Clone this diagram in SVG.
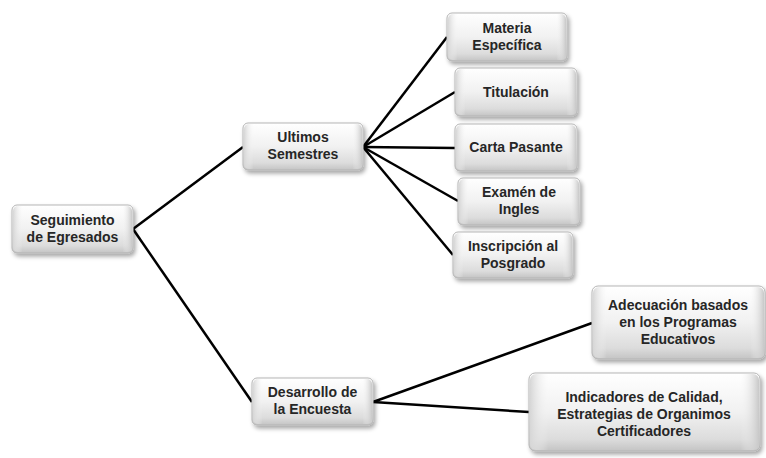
<svg xmlns="http://www.w3.org/2000/svg" width="766" height="458" viewBox="0 0 766 458">
<defs>
<linearGradient id="g" x1="0" y1="0" x2="0" y2="1">
<stop offset="0" stop-color="#ffffff"/>
<stop offset="0.5" stop-color="#f1f1f1"/>
<stop offset="0.85" stop-color="#dcdcdc"/>
<stop offset="1" stop-color="#c4c4c4"/>
</linearGradient>
<linearGradient id="gs" x1="0" y1="0" x2="1" y2="0">
<stop offset="0" stop-color="#d6d6d6"/>
<stop offset="0.08" stop-color="#f4f4f4" stop-opacity="0"/>
<stop offset="0.92" stop-color="#f4f4f4" stop-opacity="0"/>
<stop offset="1" stop-color="#c8c8c8"/>
</linearGradient>
<filter id="sh" x="-10%" y="-10%" width="125%" height="140%">
<feDropShadow dx="2" dy="3" stdDeviation="2" flood-color="#000" flood-opacity="0.35"/>
</filter>
</defs>
<style>
.b{fill:url(#g);stroke:#b5b5b5;stroke-width:1;filter:url(#sh)}
.s{fill:url(#gs);stroke:none}
.t{font-family:"Liberation Sans",Arial,sans-serif;font-weight:bold;font-size:14px;fill:#262626;text-anchor:middle}
.c{stroke:#000;stroke-width:2.5;fill:none}
</style>
<g id="connectors">
<line class="c" x1="133" y1="229" x2="243" y2="147"/>
<line class="c" x1="133" y1="229" x2="252" y2="402"/>
<line class="c" x1="363" y1="147" x2="447" y2="37"/>
<line class="c" x1="363" y1="147" x2="455" y2="92"/>
<line class="c" x1="363" y1="147" x2="455" y2="148"/>
<line class="c" x1="363" y1="147" x2="458" y2="201"/>
<line class="c" x1="363" y1="147" x2="453" y2="255"/>
<line class="c" x1="373" y1="402" x2="592" y2="323"/>
<line class="c" x1="373" y1="402" x2="529" y2="412"/>
</g>
<g id="n-seguimiento">
<rect class="b" x="12" y="205" width="121" height="48" rx="5"/>
<rect class="s" x="13" y="206" width="119" height="46" rx="5"/>
<text class="t" x="72.5" y="225">Seguimiento</text>
<text class="t" x="72.5" y="242">de Egresados</text>
</g>
<g id="n-ultimos">
<rect class="b" x="243" y="123" width="120" height="47" rx="5"/>
<rect class="s" x="244" y="124" width="118" height="45" rx="5"/>
<text class="t" x="303" y="142">Ultimos</text>
<text class="t" x="303" y="159">Semestres</text>
</g>
<g id="n-materia">
<rect class="b" x="447" y="13" width="120" height="48" rx="5"/>
<rect class="s" x="448" y="14" width="118" height="46" rx="5"/>
<text class="t" x="507" y="33">Materia</text>
<text class="t" x="507" y="50">Específica</text>
</g>
<g id="n-titulacion">
<rect class="b" x="455" y="68" width="122" height="48" rx="5"/>
<rect class="s" x="456" y="69" width="120" height="46" rx="5"/>
<text class="t" x="516" y="97">Titulación</text>
</g>
<g id="n-carta">
<rect class="b" x="455" y="124" width="122" height="47" rx="5"/>
<rect class="s" x="456" y="125" width="120" height="45" rx="5"/>
<text class="t" x="516" y="152">Carta Pasante</text>
</g>
<g id="n-examen">
<rect class="b" x="458" y="178" width="122" height="47" rx="5"/>
<rect class="s" x="459" y="179" width="120" height="45" rx="5"/>
<text class="t" x="519" y="197">Examén de</text>
<text class="t" x="519" y="214">Ingles</text>
</g>
<g id="n-inscripcion">
<rect class="b" x="453" y="232" width="120" height="46" rx="5"/>
<rect class="s" x="454" y="233" width="118" height="44" rx="5"/>
<text class="t" x="513" y="251">Inscripción al</text>
<text class="t" x="513" y="268">Posgrado</text>
</g>
<g id="n-desarrollo">
<rect class="b" x="252" y="378" width="121" height="47" rx="5"/>
<rect class="s" x="253" y="379" width="119" height="45" rx="5"/>
<text class="t" x="312.5" y="397">Desarrollo de</text>
<text class="t" x="312.5" y="414">la Encuesta</text>
</g>
<g id="n-adecuacion">
<rect class="b" x="592" y="286" width="173" height="73" rx="6"/>
<rect class="s" x="593" y="287" width="171" height="71" rx="6"/>
<text class="t" x="678" y="310">Adecuación basados</text>
<text class="t" x="678" y="327">en los Programas</text>
<text class="t" x="678" y="344">Educativos</text>
</g>
<g id="n-indicadores">
<rect class="b" x="529" y="373" width="231" height="78" rx="6"/>
<rect class="s" x="530" y="374" width="229" height="76" rx="6"/>
<text class="t" x="644" y="402">Indicadores de Calidad,</text>
<text class="t" x="644" y="419">Estrategias de Organimos</text>
<text class="t" x="644" y="436">Certificadores</text>
</g>
</svg>
